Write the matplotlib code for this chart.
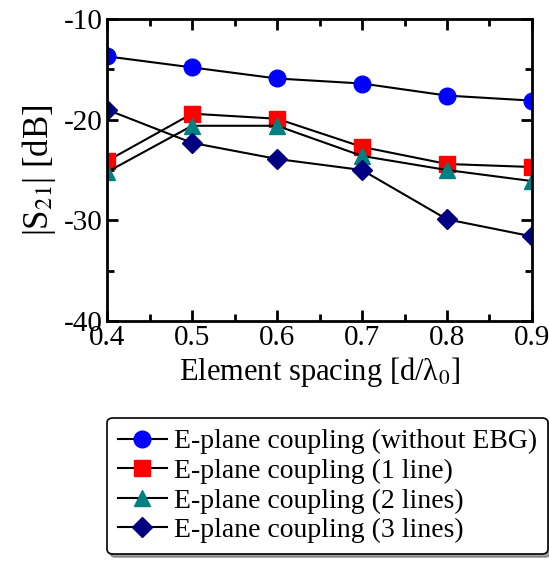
import matplotlib
matplotlib.use('Agg')
import matplotlib.pyplot as plt

spacing = [0.4, 0.5, 0.6, 0.7, 0.8, 0.9]
no_ebg = [-13.7, -14.8, -15.9, -16.4, -17.6, -18.1]
one_line = [-24.1, -19.4, -19.9, -22.7, -24.4, -24.7]
two_lines = [-25.2, -20.6, -20.6, -23.6, -25.0, -26.1]
three_lines = [-19.0, -22.3, -23.9, -25.0, -29.9, -31.6]

labels = ['E-plane coupling (without EBG)', 'E-plane coupling (1 line)',
          'E-plane coupling (2 lines)', 'E-plane coupling (3 lines)']

plt.rcParams['font.family'] = ['Liberation Serif', 'DejaVu Serif']
plt.rcParams['mathtext.fontset'] = 'stix'
plt.rcParams['axes.unicode_minus'] = False

fig = plt.figure(figsize=(5.49, 5.63), dpi=100)
ax = fig.add_axes([0.195, 0.430, 0.774, 0.536])

ax.plot(spacing, no_ebg, '-o', color='black', lw=1.5, mfc='blue', mec='blue', ms=12, label=labels[0])
ax.plot(spacing, one_line, '-s', color='black', lw=1.5, mfc='red', mec='red', ms=12, label=labels[1])
ax.plot(spacing, two_lines, '-^', color='black', lw=1.5, mfc='teal', mec='teal', ms=12, label=labels[2])
ax.plot(spacing, three_lines, '-D', color='black', lw=1.5, mfc='navy', mec='navy', ms=10, label=labels[3])

ax.set_xlim(0.4, 0.9)
ax.set_ylim(-40, -10)
ax.set_xticks([0.4, 0.5, 0.6, 0.7, 0.8, 0.9])
ax.set_xticks([0.45, 0.55, 0.65, 0.75, 0.85], minor=True)
ax.set_yticks([-40, -30, -20, -10])
ax.set_yticks([-35, -25, -15], minor=True)
ax.tick_params(which='both', direction='in', top=True, right=True, width=2, labelsize=21)
ax.tick_params(which='major', length=8)
ax.tick_params(which='minor', length=5)
ax.tick_params(axis='x', pad=3)
ax.tick_params(axis='y', pad=3)
for s in ax.spines.values():
    s.set_linewidth(2)

ax.set_xlabel('Element spacing [d/λ$_0$]', fontsize=22, labelpad=3)
ax.set_ylabel('|S$_{21}$| [dB]', fontsize=25, labelpad=4)

leg = fig.legend(loc='upper left', bbox_to_anchor=(0.195, 0.258), fontsize=20,
                 frameon=True, shadow=True, fancybox=True, handlelength=1.75,
                 borderpad=0.4, labelspacing=0.15, handletextpad=0.25, borderaxespad=0)
leg.get_frame().set_edgecolor('black')
leg.get_frame().set_linewidth(1.2)

fig.savefig('out.png', dpi=100)
